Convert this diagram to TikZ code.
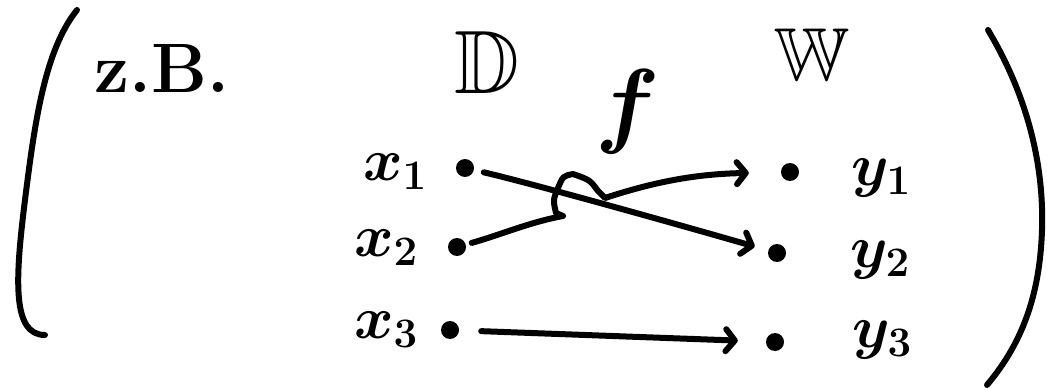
\documentclass[tikz,border=0pt]{standalone}
\usepackage{fix-cm}
\usepackage{amssymb}
\usetikzlibrary{arrows.meta}
\tikzset{
  ink/.style={line width=6pt, line cap=round, line join=round},
  arr/.style={ink, -{Straight Barb[length=9pt,width=22pt,line cap=round,line join=round]}},
  pt/.style={circle, fill, inner sep=0pt, minimum size=18pt},
  lab/.style={inner sep=0pt, font=\fontsize{60}{70}\selectfont\boldmath},
}
\begin{document}
\begin{tikzpicture}[x=1pt,y=-1pt]
\useasboundingbox (0,0) rectangle (1047,390);
% parentheses
\draw[ink] (77,10) .. controls (45,50) and (35,120) .. (25,200) .. controls (15,280) and (12,335) .. (45,335);
\draw[ink] (988,30) .. controls (1030,100) and (1044,170) .. (1042,230) .. controls (1040,290) and (1025,340) .. (987,385);
% texts
\node[inner sep=0pt, font=\fontsize{70}{80}\selectfont\bfseries] (zb) at (162,68) {z.B.};
\node[inner sep=0pt, font=\fontsize{90}{100}\selectfont] (D) at (487,63) {$\mathbb{D}$};
\node[inner sep=0pt, font=\fontsize{75}{80}\selectfont] (W) at (812,55) {$\mathbb{W}$};
\node[inner sep=0pt, font=\fontsize{95}{100}\selectfont\boldmath] (f) at (628,112) {$f$};
% points
\node[pt] (x1d) at (465,168) {};
\node[pt] (x2d) at (457,247) {};
\node[pt] (x3d) at (450,330) {};
\node[pt] (y1d) at (790,172) {};
\node[pt] (y2d) at (777,253) {};
\node[pt] (y3d) at (775,342) {};
% labels
\node[lab] (x1) at (395,172) {$x_1$};
\node[lab] (x2) at (386,248) {$x_2$};
\node[lab] (x3) at (386,330) {$x_3$};
\node[lab] (y1) at (881,178) {$y_1$};
\node[lab] (y2) at (880,260) {$y_2$};
\node[lab] (y3) at (882,340) {$y_3$};
% arrows
\draw[arr, shorten <=10pt, shorten >=14pt] (x1d) .. controls (530,183) and (680,225) .. (y2d);
\draw[arr, shorten <=6pt, shorten >=32pt] (x2d) .. controls (500,235) and (530,222) .. (563,216) -- (556,213)
  .. controls (553,200) .. (558,188) .. controls (563,176) .. (573,174)
  .. controls (590,180) .. (598,191) -- (605,198) .. controls (660,180) and (700,174) .. (y1d);
\draw[arr, shorten <=22pt, shorten >=28pt] (x3d) -- (y3d);
\end{tikzpicture}
\end{document}
